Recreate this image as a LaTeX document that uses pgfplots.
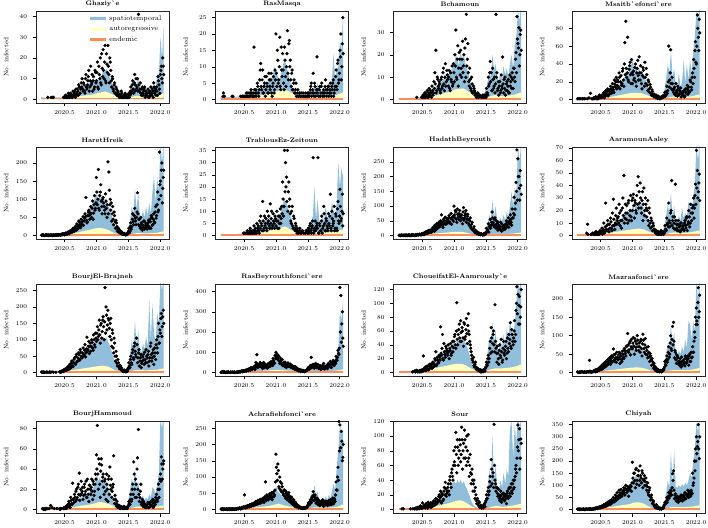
\documentclass[border=0pt]{standalone}
\usepackage{pgfplots}
\pgfplotsset{compat=1.18}
\definecolor{spt}{HTML}{91BFDB}
\definecolor{arc}{HTML}{FFFFBF}
\definecolor{enc}{HTML}{FC8D59}
\newcommand\Spt[1]{\addplot[draw=none,fill=spt,forget plot] table[x expr=2020.13+0.025*\coordindex,y index=0,header=false,row sep=\\]{#1}\closedcycle;}
\newcommand\Arr[1]{\addplot[draw=none,fill=arc,forget plot] table[x expr=2020.13+0.0507*\coordindex,y index=0,header=false,row sep=\\]{#1}\closedcycle;}
\newcommand\Enn[1]{\addplot[draw=none,fill=enc,forget plot] coordinates {(2020.13,#1) (2022.055,#1)}\closedcycle;}
\newcommand\Pts[1]{\addplot[only marks,mark=*,mark size=1.45pt,black,forget plot] table[x expr=2020.13+0.015*\coordindex,y index=0,header=false,row sep=\\]{#1};}
\newcommand\Ptt[1]{\addplot[only marks,mark=*,mark size=1.45pt,black,forget plot] table[x expr=2020.1375+0.015*\coordindex,y index=0,header=false,row sep=\\]{#1};}
\pgfplotsset{
  panel/.style={
    scale only axis, width=133pt, height=92pt, anchor=south west,
    xmin=2020.05, xmax=2022.14,
    xtick={2020.5,2021,2021.5,2022},
    xticklabels={2020.5,2021.0,2021.5,2022.0},
    tick align=outside, tick pos=left,
    major tick length=3.5pt,
    every tick/.style={black, line width=0.45pt},
    axis line style={black!85, line width=0.55pt},
    tick label style={font=\fontsize{6}{7}\selectfont},
    yticklabel style={xshift=-2pt},
    xticklabel style={yshift=-0.5pt},
    ylabel={No.\ infected},
    every axis y label/.style={at={(axis description cs:-0.225,0.5)}, rotate=90, anchor=center, font=\fontsize{6.5}{7}\selectfont},
    every axis title/.style={at={(0.5,1)}, anchor=south, yshift=1pt, font=\bfseries\fontsize{6.5}{7.5}\selectfont},
    axis on top,
    scaled y ticks=false,
  },
}
\begin{document}
\begin{tikzpicture}
\useasboundingbox (0pt,0pt) rectangle (708pt,527pt);
% ---------- 1 Ghaziye
\begin{axis}[panel, at={(36pt,424pt)}, title={Ghaziy\textasciigrave e}, ymin=-1.7, ymax=42.6, ytick={0,10,20,30,40},
  legend style={draw=none, fill=none, at={(0.96,0.975)}, anchor=north east, font=\fontsize{7}{8}\selectfont, row sep=0.3pt, inner sep=0pt},
  legend cell align=left,
  legend image code/.code={\draw[#1, line width=2.6pt] (0pt,0pt) -- (16pt,0pt);}]
\addlegendimage{spt}\addlegendentry{spatiotemporal}
\addlegendimage{arc}\addlegendentry{autoregressive}
\addlegendimage{enc}\addlegendentry{endemic}
\Spt{1.0\\1.0\\0.9\\0.9\\0.9\\0.9\\0.9\\0.9\\0.9\\0.9\\1.0\\1.0\\1.0\\1.0\\1.2\\1.3\\1.5\\1.8\\2.0\\2.3\\2.6\\3.0\\3.4\\3.8\\4.5\\5\\5.5\\6.5\\7\\7.5\\8\\7\\8.5\\9\\8\\10\\9\\12\\11\\14\\13\\15\\12\\11\\9\\7\\6\\4.5\\3.5\\3\\2.5\\2\\2\\1.8\\2\\3\\4\\6\\5\\9\\6\\11\\5\\4\\5\\3.5\\4\\3\\4.5\\5\\4\\7\\6\\12\\10\\30\\20\\35\\}
\Arr{0.8\\0.8\\0.8\\0.8\\0.8\\0.8\\0.8\\0.9\\1.0\\1.1\\1.2\\1.4\\1.6\\1.8\\2.0\\2.2\\2.4\\2.8\\3.2\\3.5\\3.8\\3.2\\2.5\\1.8\\1.3\\1.1\\1.0\\1.0\\1.2\\1.6\\1.8\\1.5\\1.3\\1.3\\1.4\\1.5\\1.8\\2.5\\3.0\\}
\Enn{0.7}
\Pts{nan\\nan\\nan\\nan\\nan\\nan\\nan\\1\\nan\\nan\\nan\\nan\\1\\1\\nan\\nan\\nan\\nan\\nan\\nan\\nan\\nan\\nan\\nan\\1\\1\\2\\1\\1\\2\\1\\3\\2\\1\\2\\4\\1\\3\\5\\2\\6\\3\\8\\10\\4\\7\\3\\12\\5\\9\\14\\6\\16\\8\\4\\11\\6\\13\\9\\18\\5\\12\\20\\7\\15\\24\\10\\26\\8\\17\\26\\12\\20\\14\\6\\10\\4\\8\\3\\5\\2\\3\\1\\2\\4\\1\\2\\1\\3\\1\\2\\1\\3\\2\\6\\4\\9\\3\\12\\7\\5\\10\\41\\4\\8\\2\\6\\3\\5\\1\\4\\2\\5\\1\\3\\6\\2\\4\\8\\3\\5\\6\\2\\9\\5\\12\\16\\8\\16\\}
\Ptt{nan\\nan\\nan\\nan\\nan\\nan\\nan\\nan\\nan\\nan\\1\\nan\\nan\\nan\\nan\\nan\\nan\\nan\\nan\\nan\\nan\\nan\\nan\\1\\nan\\2\\1\\1\\3\\1\\2\\2\\1\\4\\3\\2\\5\\2\\4\\7\\3\\5\\6\\5\\8\\4\\10\\6\\7\\11\\4\\9\\7\\12\\9\\5\\14\\8\\13\\6\\16\\10\\8\\22\\11\\14\\18\\9\\22\\13\\16\\8\\18\\9\\11\\5\\7\\3\\6\\2\\4\\2\\2\\1\\3\\1\\1\\2\\2\\1\\1\\2\\1\\4\\3\\7\\5\\8\\4\\10\\6\\4\\7\\5\\3\\5\\2\\4\\6\\2\\3\\3\\1\\4\\2\\3\\5\\1\\6\\4\\2\\4\\11\\7\\3\\14\\10\\20\\12\\}
\end{axis}
% ---------- 2 RasMasqa
\begin{axis}[panel, at={(215.5pt,424pt)}, title={RasMasqa}, ymin=-1.05, ymax=27, ytick={0,5,10,15,20,25}]
\Spt{0.8\\0.8\\0.8\\0.8\\0.8\\0.8\\0.8\\0.8\\0.8\\0.8\\0.9\\0.9\\1.0\\1.0\\1.0\\1.1\\1.2\\1.4\\1.5\\1.7\\2.0\\2.3\\2.6\\3\\3.2\\3.5\\4\\4.5\\5\\5\\5.5\\6\\6.5\\8\\10\\9\\7\\6\\8\\10\\12\\11\\9\\7\\5\\3.5\\2.5\\2\\1.5\\1.3\\1.2\\1.1\\1.2\\1.3\\1.5\\2\\2.5\\3\\2.5\\4\\3\\5\\3\\2.5\\3\\2.5\\4\\3\\5\\4\\6\\14\\6\\9\\10\\18\\15\\27\\}
\Arr{0.5\\0.5\\0.5\\0.5\\0.5\\0.5\\0.5\\0.6\\0.7\\0.8\\0.9\\1.0\\1.2\\1.4\\1.6\\1.8\\2.0\\2.4\\2.6\\2.8\\3.0\\2.6\\2.0\\1.5\\1.1\\0.9\\0.8\\0.8\\0.9\\1.1\\1.2\\1.1\\1.0\\1.0\\1.1\\1.2\\1.4\\1.8\\2.2\\}
\Enn{0.45}
\Pts{nan\\nan\\nan\\2\\1\\nan\\nan\\nan\\nan\\nan\\nan\\nan\\1\\1\\nan\\nan\\nan\\nan\\nan\\nan\\nan\\1\\nan\\1\\1\\1\\1\\2\\1\\1\\2\\1\\3\\1\\2\\16\\1\\3\\2\\4\\1\\6\\11\\3\\9\\2\\5\\1\\7\\4\\2\\6\\3\\8\\1\\5\\2\\9\\20\\4\\12\\6\\19\\3\\9\\14\\5\\16\\7\\10\\21\\6\\18\\12\\4\\9\\3\\6\\2\\5\\1\\3\\1\\2\\1\\2\\nan\\1\\1\\2\\1\\1\\2\\1\\3\\5\\2\\8\\1\\4\\2\\13\\3\\1\\4\\2\\5\\1\\3\\2\\6\\1\\3\\4\\2\\5\\1\\3\\6\\2\\4\\9\\3\\12\\6\\15\\20\\10\\25\\}
\Ptt{nan\\nan\\1\\nan\\nan\\nan\\nan\\nan\\nan\\nan\\nan\\nan\\nan\\nan\\nan\\nan\\nan\\nan\\nan\\nan\\nan\\nan\\1\\nan\\nan\\nan\\1\\1\\2\\1\\1\\2\\2\\1\\1\\3\\2\\1\\5\\2\\3\\9\\4\\6\\2\\4\\7\\3\\5\\2\\8\\4\\6\\2\\4\\7\\3\\6\\8\\15\\5\\10\\4\\16\\7\\9\\3\\12\\4\\14\\8\\17\\10\\6\\8\\3\\5\\2\\3\\1\\2\\1\\2\\1\\nan\\1\\2\\nan\\1\\1\\1\\2\\1\\2\\4\\1\\3\\2\\5\\1\\3\\2\\1\\3\\1\\4\\2\\2\\1\\4\\3\\2\\4\\1\\3\\2\\4\\5\\1\\3\\7\\4\\11\\5\\8\\13\\6\\17\\14\\}
\end{axis}
% ---------- 3 Bchamoun
\begin{axis}[panel, at={(393.5pt,424pt)}, title={Bchamoun}, ymin=-1.5, ymax=39.5, ytick={0,10,20,30}]
\Spt{0.6\\0.6\\0.6\\0.6\\0.6\\0.6\\0.6\\0.6\\0.6\\0.6\\0.7\\0.8\\0.9\\1.0\\1.2\\1.5\\2\\2.5\\3\\3.5\\4\\4.5\\5\\5.5\\6\\7\\7.5\\8\\9\\9.5\\10\\11\\12\\13\\14\\16\\20\\18\\15\\22\\17\\20\\16\\14\\11\\8\\6\\4\\3\\2.5\\2\\2\\2\\2.5\\3\\5\\8\\12\\10\\20\\13\\16\\10\\8\\12\\9\\15\\11\\14\\10\\16\\20\\14\\24\\28\\40\\35\\42\\}
\Arr{0.5\\0.5\\0.5\\0.5\\0.5\\0.5\\0.5\\0.6\\0.8\\1.0\\1.3\\1.6\\2.0\\2.4\\2.8\\3.2\\3.6\\4.2\\4.6\\4.8\\5.0\\4.2\\3.2\\2.2\\1.5\\1.1\\1.0\\1.0\\1.3\\1.8\\2.0\\1.8\\1.6\\1.6\\1.8\\2.0\\2.2\\2.8\\3.2\\}
\Enn{0.65}
\Pts{nan\\nan\\nan\\nan\\nan\\nan\\nan\\nan\\nan\\nan\\nan\\nan\\nan\\nan\\nan\\nan\\nan\\nan\\nan\\1\\nan\\nan\\nan\\nan\\1\\1\\2\\1\\3\\2\\4\\1\\5\\2\\3\\6\\2\\8\\12\\22\\4\\9\\5\\7\\3\\10\\6\\14\\4\\16\\8\\11\\6\\13\\4\\9\\15\\7\\12\\20\\31\\9\\24\\14\\18\\22\\10\\26\\15\\8\\27\\38\\18\\12\\6\\9\\4\\7\\3\\5\\2\\2\\1\\3\\1\\2\\nan\\1\\2\\1\\1\\2\\5\\3\\10\\7\\17\\12\\4\\9\\6\\3\\38\\12\\5\\2\\8\\4\\6\\19\\3\\5\\2\\7\\4\\9\\3\\6\\10\\12\\5\\14\\8\\21\\37\\25\\32\\20\\31\\}
\Ptt{nan\\nan\\nan\\nan\\nan\\nan\\nan\\nan\\nan\\nan\\nan\\nan\\nan\\nan\\nan\\nan\\nan\\nan\\nan\\nan\\nan\\nan\\nan\\nan\\nan\\2\\1\\3\\1\\2\\1\\3\\2\\4\\1\\4\\3\\5\\7\\3\\10\\6\\8\\4\\9\\5\\12\\7\\10\\6\\13\\9\\10\\5\\12\\8\\6\\16\\8\\15\\10\\18\\6\\21\\11\\14\\18\\12\\20\\23\\10\\15\\25\\8\\14\\5\\10\\3\\6\\4\\3\\1\\2\\1\\2\\nan\\1\\1\\nan\\2\\1\\1\\3\\2\\6\\12\\8\\4\\14\\5\\10\\7\\10\\4\\8\\6\\3\\11\\5\\7\\9\\10\\4\\8\\6\\3\\11\\8\\5\\9\\14\\10\\18\\12\\27\\23\\15\\29\\22\\}
\end{axis}
% ---------- 4 Msaitbeh
\begin{axis}[panel, at={(572pt,424pt)}, title={Msaitb\textasciigrave efonci\textasciigrave ere}, ymin=-3.8, ymax=99.5, ytick={0,20,40,60,80}]
\Spt{1.2\\1.2\\1.2\\1.2\\1.2\\1.2\\1.2\\1.2\\1.4\\1.6\\1.8\\2\\2.3\\2.6\\3\\3.5\\4\\5\\6\\7\\8\\9\\10\\11\\12\\14\\16\\18\\20\\22\\26\\30\\28\\35\\38\\45\\32\\38\\30\\36\\28\\32\\26\\22\\17\\12\\9\\6\\4\\3\\2.5\\2.5\\3\\4\\6\\12\\25\\40\\30\\55\\25\\35\\18\\15\\30\\14\\20\\45\\18\\40\\22\\45\\30\\55\\70\\100\\90\\110\\}
\Arr{1\\1\\1\\1\\1\\1.1\\1.2\\1.4\\1.8\\2.2\\2.8\\3.4\\4.0\\4.8\\5.5\\6.2\\7.0\\7.5\\7.8\\7.5\\7.0\\6.0\\4.5\\3.2\\2.2\\1.6\\1.4\\1.4\\2.0\\3.0\\3.5\\3.2\\3.0\\3.0\\3.2\\3.5\\4.0\\5.0\\6.0\\}
\Enn{1.6}
\Pts{nan\\1\\nan\\1\\1\\nan\\1\\nan\\1\\nan\\nan\\nan\\nan\\nan\\7\\nan\\1\\1\\2\\nan\\1\\3\\1\\2\\4\\2\\5\\3\\8\\4\\10\\6\\12\\5\\9\\15\\7\\18\\11\\22\\14\\25\\16\\20\\30\\12\\27\\18\\35\\15\\64\\88\\25\\70\\20\\38\\28\\45\\18\\32\\24\\40\\15\\35\\27\\48\\22\\30\\12\\36\\25\\42\\18\\28\\10\\20\\8\\14\\5\\9\\4\\6\\3\\5\\2\\4\\2\\1\\3\\2\\4\\3\\8\\5\\15\\10\\60\\22\\56\\12\\18\\8\\14\\5\\10\\4\\12\\6\\9\\3\\7\\5\\10\\4\\8\\12\\6\\14\\9\\20\\11\\30\\45\\25\\65\\40\\95\\70\\90\\}
\Ptt{1\\nan\\1\\nan\\nan\\1\\nan\\1\\nan\\nan\\1\\nan\\2\\nan\\nan\\1\\nan\\2\\1\\3\\2\\1\\2\\5\\3\\4\\3\\6\\2\\7\\5\\9\\4\\11\\7\\12\\10\\14\\8\\17\\20\\12\\22\\14\\25\\20\\16\\32\\22\\40\\28\\35\\30\\22\\34\\42\\18\\30\\28\\22\\36\\20\\30\\44\\22\\30\\38\\18\\27\\33\\15\\25\\35\\16\\22\\12\\17\\7\\11\\6\\3\\4\\2\\3\\1\\3\\1\\2\\2\\4\\3\\5\\4\\9\\7\\20\\14\\30\\18\\25\\10\\12\\6\\18\\8\\15\\5\\10\\13\\6\\9\\8\\3\\12\\7\\16\\10\\8\\22\\14\\25\\18\\35\\55\\42\\60\\80\\55\\75\\}
\end{axis}
% ---------- 5 HaretHreik
\begin{axis}[panel, at={(36pt,288pt)}, title={HaretHreik}, ymin=-9.4, ymax=244, ytick={0,50,100,150,200}]
\Spt{2\\2\\2\\2\\2\\2\\2\\2\\2.2\\2.5\\3\\3.5\\4\\5\\6\\7\\9\\11\\13\\16\\19\\22\\26\\30\\34\\38\\44\\50\\56\\62\\70\\78\\86\\95\\105\\115\\100\\110\\95\\105\\90\\100\\85\\75\\60\\45\\30\\18\\10\\6\\5\\4\\4\\5\\8\\20\\45\\80\\60\\130\\70\\120\\60\\45\\70\\50\\80\\55\\90\\60\\120\\165\\90\\160\\120\\250\\200\\260\\}
\Arr{2\\2\\2\\2\\2\\2.2\\2.5\\3\\4\\5\\6.5\\8\\10\\12\\14\\16\\18\\20\\21\\20\\18\\15\\10\\6\\4\\3\\3\\3\\4\\6\\7\\6.5\\6\\6\\6.5\\7\\8\\10\\12\\}
\Enn{4}
\Pts{nan\\1\\2\\1\\0\\1\\2\\1\\0\\1\\2\\1\\0\\1\\1\\2\\1\\2\\1\\3\\2\\4\\2\\3\\5\\4\\7\\3\\9\\6\\12\\8\\15\\10\\18\\12\\25\\15\\30\\20\\38\\24\\45\\30\\52\\40\\60\\105\\35\\55\\70\\45\\80\\50\\95\\62\\110\\75\\160\\85\\182\\70\\120\\95\\60\\105\\80\\60\\95\\50\\203\\175\\85\\70\\40\\80\\30\\55\\20\\35\\12\\20\\8\\12\\5\\8\\3\\6\\4\\2\\5\\8\\20\\12\\35\\25\\60\\30\\75\\40\\50\\118\\30\\45\\20\\35\\15\\28\\40\\22\\30\\18\\35\\25\\45\\20\\50\\30\\60\\35\\80\\55\\120\\70\\230\\150\\180\\90\\160\\}
\Ptt{1\\2\\1\\0\\2\\1\\1\\2\\1\\1\\0\\2\\1\\2\\0\\1\\3\\1\\3\\2\\1\\3\\5\\4\\2\\6\\5\\8\\10\\5\\9\\14\\11\\20\\14\\22\\18\\32\\26\\40\\30\\22\\35\\40\\28\\48\\52\\42\\38\\65\\55\\62\\60\\75\\45\\85\\70\\90\\120\\100\\75\\110\\140\\80\\100\\90\\70\\115\\75\\85\\60\\125\\100\\90\\60\\45\\65\\38\\42\\25\\18\\12\\15\\6\\10\\4\\3\\5\\2\\4\\3\\12\\8\\25\\18\\45\\38\\55\\48\\30\\65\\60\\45\\25\\50\\30\\22\\40\\18\\35\\25\\28\\42\\20\\38\\55\\28\\45\\38\\65\\48\\85\\65\\100\\140\\110\\200\\130\\180\\}
\end{axis}
% ---------- 6 TrablousEz-Zeitoun
\begin{axis}[panel, at={(215.5pt,288pt)}, title={TrablousEz-Zeitoun}, ymin=-1.4, ymax=36.4, ytick={0,5,10,15,20,25,30,35}]
\Spt{0.5\\0.5\\0.5\\0.5\\0.5\\0.5\\0.5\\0.5\\0.5\\0.5\\0.6\\0.7\\0.8\\0.9\\1.0\\1.2\\1.4\\1.6\\1.9\\2.2\\2.5\\2.8\\3.2\\3.6\\4\\4.5\\5\\5.5\\6\\6.5\\7\\6.5\\7\\6.5\\7\\7\\7.5\\8\\10\\13\\15\\14\\12\\10\\8\\6\\4\\3\\2\\1.5\\1.2\\1\\1\\1.2\\1.5\\2.5\\4\\6\\8\\20\\7\\15\\6\\5\\8\\6\\12\\7\\10\\8\\14\\10\\8\\14\\30\\20\\28\\24\\}
\Arr{0.4\\0.4\\0.4\\0.4\\0.4\\0.4\\0.4\\0.5\\0.6\\0.8\\1.0\\1.2\\1.4\\1.6\\1.8\\2.0\\2.2\\2.5\\2.8\\3.4\\3.8\\3.0\\2.2\\1.5\\1.0\\0.7\\0.6\\0.6\\0.8\\1.2\\1.5\\1.4\\1.3\\1.3\\1.4\\1.5\\1.8\\2.2\\2.6\\}
\Enn{0.6}
\Pts{nan\\nan\\nan\\nan\\nan\\nan\\nan\\nan\\nan\\nan\\nan\\nan\\nan\\nan\\nan\\nan\\nan\\nan\\nan\\nan\\nan\\nan\\nan\\nan\\1\\1\\nan\\1\\2\\1\\1\\3\\1\\2\\1\\4\\2\\1\\5\\3\\2\\6\\8\\4\\14\\2\\8\\5\\3\\10\\6\\4\\13\\7\\3\\9\\5\\8\\4\\10\\6\\3\\8\\5\\12\\22\\8\\35\\30\\24\\35\\18\\12\\9\\5\\12\\3\\7\\2\\4\\1\\2\\1\\3\\1\\nan\\2\\1\\nan\\1\\2\\1\\3\\2\\5\\1\\4\\32\\2\\6\\3\\5\\32\\1\\4\\2\\8\\3\\12\\5\\2\\6\\3\\9\\4\\17\\2\\7\\5\\12\\3\\8\\2\\14\\5\\19\\6\\10\\4\\}
\Ptt{nan\\nan\\nan\\nan\\nan\\nan\\nan\\nan\\nan\\nan\\nan\\nan\\nan\\nan\\nan\\nan\\nan\\nan\\nan\\nan\\nan\\nan\\nan\\nan\\nan\\nan\\1\\nan\\1\\nan\\2\\1\\nan\\1\\2\\1\\3\\1\\2\\4\\1\\3\\5\\2\\6\\3\\4\\7\\2\\5\\8\\3\\5\\10\\4\\6\\3\\7\\6\\3\\8\\5\\11\\7\\9\\15\\12\\18\\20\\14\\10\\22\\15\\6\\10\\4\\8\\3\\5\\2\\3\\1\\2\\nan\\1\\2\\nan\\nan\\1\\2\\nan\\2\\1\\4\\2\\3\\6\\1\\3\\2\\4\\3\\1\\5\\2\\6\\1\\4\\9\\2\\7\\4\\2\\5\\8\\3\\10\\4\\6\\2\\9\\3\\11\\6\\8\\12\\7\\17\\9\\}
\end{axis}
% ---------- 7 HadathBeyrouth
\begin{axis}[panel, at={(393.5pt,288pt)}, title={HadathBeyrouth}, ymin=-11.5, ymax=300, ytick={0,50,100,150,200,250}]
\Spt{2\\2\\2\\2\\2\\2\\2\\2\\2.3\\2.6\\3\\3.5\\4\\5\\6\\7\\9\\11\\13\\15\\18\\21\\24\\27\\30\\34\\38\\42\\46\\50\\54\\58\\60\\64\\68\\72\\65\\70\\62\\68\\60\\64\\58\\52\\44\\35\\24\\15\\9\\6\\5\\4\\4\\5\\8\\18\\40\\70\\55\\120\\60\\100\\50\\45\\60\\48\\70\\52\\80\\60\\100\\150\\100\\160\\130\\300\\250\\310\\}
\Arr{2\\2\\2\\2\\2\\2.2\\2.5\\3\\3.8\\4.6\\5.5\\6.5\\7.5\\8.5\\9.5\\10.5\\11.5\\12.5\\13\\12.5\\12\\10\\7\\5\\3.5\\3\\3\\3\\4\\5.5\\6\\6\\5.5\\5.5\\6\\6.5\\7.5\\9\\11\\}
\Enn{5}
\Pts{nan\\1\\0\\2\\1\\0\\1\\2\\1\\0\\1\\3\\1\\0\\2\\1\\2\\1\\3\\2\\4\\2\\5\\3\\6\\4\\8\\5\\12\\7\\15\\10\\18\\12\\20\\14\\28\\18\\35\\22\\40\\25\\45\\30\\50\\70\\35\\55\\40\\62\\45\\58\\50\\68\\42\\75\\55\\65\\100\\60\\80\\45\\72\\55\\85\\50\\70\\40\\95\\60\\75\\45\\65\\55\\35\\60\\25\\45\\18\\30\\10\\15\\6\\10\\4\\8\\3\\5\\2\\6\\4\\10\\25\\15\\40\\30\\55\\35\\80\\45\\30\\60\\25\\40\\18\\35\\22\\45\\15\\30\\20\\35\\25\\50\\30\\60\\40\\70\\45\\90\\60\\130\\90\\180\\290\\260\\200\\120\\170\\}
\Ptt{1\\0\\2\\1\\0\\2\\1\\0\\2\\1\\2\\0\\1\\2\\3\\1\\0\\2\\1\\3\\2\\4\\3\\2\\5\\7\\3\\9\\6\\10\\8\\14\\11\\16\\12\\18\\24\\15\\28\\20\\32\\38\\30\\40\\36\\45\\28\\50\\60\\38\\52\\42\\60\\45\\58\\38\\62\\48\\70\\85\\55\\90\\62\\75\\68\\62\\58\\80\\52\\68\\85\\55\\72\\40\\50\\30\\38\\20\\25\\14\\18\\8\\12\\5\\7\\3\\6\\4\\3\\2\\5\\6\\15\\20\\12\\35\\25\\45\\60\\38\\55\\35\\50\\28\\45\\25\\30\\18\\38\\25\\28\\22\\40\\35\\45\\28\\50\\55\\35\\60\\75\\70\\110\\150\\120\\200\\160\\220\\140\\}
\end{axis}
% ---------- 8 AaramounAaley
\begin{axis}[panel, at={(572pt,288pt)}, title={AaramounAaley}, ymin=-2.7, ymax=70.7, ytick={0,10,20,30,40,50,60,70}]
\Spt{1\\1\\1\\1\\1\\1\\1\\1\\1.1\\1.2\\1.4\\1.6\\1.8\\2.0\\2.4\\2.8\\3.3\\3.8\\4.5\\5.2\\6\\7\\8\\9\\10\\11\\12\\13\\14\\15\\16\\17\\18\\19\\20\\24\\20\\26\\22\\28\\24\\26\\20\\17\\14\\11\\8\\5\\3.5\\2.5\\2\\2\\2\\2.5\\3.5\\8\\16\\25\\18\\34\\15\\24\\12\\10\\16\\12\\22\\14\\18\\15\\27\\25\\18\\30\\40\\72\\60\\75\\}
\Arr{0.8\\0.8\\0.8\\0.8\\0.8\\0.9\\1.0\\1.2\\1.5\\1.8\\2.2\\2.6\\3.0\\3.4\\3.8\\4.2\\4.6\\5.0\\5.4\\5.6\\5.4\\4.6\\3.4\\2.4\\1.6\\1.2\\1.1\\1.1\\1.5\\2.2\\2.6\\2.4\\2.2\\2.2\\2.4\\2.6\\3.0\\3.6\\4.2\\}
\Enn{1.2}
\Pts{nan\\nan\\nan\\nan\\nan\\nan\\nan\\nan\\nan\\nan\\2\\9\\nan\\nan\\nan\\1\\nan\\1\\2\\1\\3\\1\\2\\1\\4\\2\\6\\4\\10\\3\\26\\8\\12\\5\\9\\14\\6\\18\\29\\8\\10\\22\\12\\15\\25\\8\\20\\12\\30\\48\\14\\18\\24\\10\\28\\16\\32\\12\\20\\33\\14\\26\\18\\40\\47\\35\\42\\22\\28\\12\\38\\20\\25\\15\\28\\8\\18\\6\\12\\4\\8\\5\\2\\4\\1\\3\\2\\1\\4\\2\\3\\3\\8\\5\\14\\10\\26\\7\\18\\44\\12\\6\\15\\41\\9\\4\\12\\7\\3\\10\\5\\8\\4\\12\\6\\15\\9\\20\\7\\25\\12\\18\\30\\22\\41\\68\\52\\35\\49\\}
\Ptt{nan\\nan\\nan\\nan\\nan\\nan\\nan\\nan\\nan\\nan\\nan\\1\\nan\\nan\\1\\nan\\2\\nan\\1\\3\\1\\2\\1\\3\\2\\3\\1\\5\\2\\7\\5\\4\\9\\3\\6\\11\\4\\8\\13\\5\\16\\9\\14\\10\\18\\12\\6\\22\\16\\10\\25\\13\\18\\26\\12\\20\\15\\28\\30\\24\\28\\20\\32\\25\\22\\26\\30\\18\\35\\25\\16\\30\\22\\20\\12\\22\\10\\14\\7\\10\\5\\3\\4\\2\\3\\1\\2\\3\\1\\2\\1\\2\\5\\4\\9\\7\\12\\10\\20\\8\\15\\10\\5\\12\\6\\9\\4\\8\\10\\5\\7\\5\\10\\8\\14\\4\\11\\15\\10\\18\\22\\24\\14\\32\\25\\38\\30\\42\\28\\}
\end{axis}
% ---------- 9 BourjEl-Brajneh
\begin{axis}[panel, at={(36pt,151pt)}, title={BourjEl-Brajneh}, ymin=-10.4, ymax=270, ytick={0,50,100,150,200,250}]
\Spt{3\\3\\3\\3\\3\\3\\3\\3\\3.5\\4\\5\\6\\7\\8\\10\\12\\15\\18\\22\\26\\30\\34\\38\\42\\46\\50\\55\\60\\65\\70\\75\\80\\85\\90\\95\\100\\92\\105\\98\\110\\100\\108\\95\\85\\70\\55\\38\\22\\12\\8\\6\\5\\5\\6\\10\\25\\55\\100\\70\\160\\80\\130\\70\\60\\90\\70\\110\\80\\220\\100\\210\\120\\90\\180\\150\\280\\250\\290\\}
\Arr{3\\3\\3\\3\\3\\3.2\\3.5\\4\\5\\6.5\\8\\9.5\\11\\12.5\\14\\15.5\\17\\18.5\\20\\21\\20\\17\\12\\7\\5\\4\\4\\4\\5\\7\\8\\7.5\\7\\7\\7.5\\8\\9\\11\\13\\}
\Enn{4.5}
\Pts{nan\\1\\2\\0\\1\\nan\\2\\1\\nan\\2\\1\\nan\\nan\\1\\nan\\nan\\nan\\nan\\nan\\nan\\3\\2\\5\\4\\8\\6\\12\\8\\18\\10\\25\\15\\35\\20\\30\\45\\25\\55\\35\\60\\40\\70\\50\\45\\75\\55\\85\\60\\108\\70\\95\\80\\65\\100\\75\\115\\85\\120\\95\\140\\110\\160\\90\\150\\125\\170\\100\\259\\200\\130\\190\\160\\110\\165\\80\\120\\60\\90\\35\\50\\20\\30\\12\\20\\8\\5\\3\\8\\4\\2\\6\\10\\30\\15\\50\\25\\70\\40\\90\\55\\105\\30\\60\\20\\45\\15\\35\\55\\25\\40\\70\\30\\55\\20\\45\\90\\35\\60\\25\\75\\40\\100\\60\\150\\90\\120\\180\\140\\190\\}
\Ptt{2\\nan\\1\\1\\nan\\1\\nan\\nan\\1\\nan\\nan\\2\\nan\\nan\\nan\\1\\nan\\nan\\nan\\2\\1\\4\\6\\3\\10\\9\\7\\14\\11\\20\\13\\28\\22\\18\\40\\28\\48\\32\\45\\55\\38\\62\\45\\60\\52\\68\\48\\72\\65\\80\\58\\90\\80\\92\\68\\100\\78\\105\\120\\100\\130\\115\\145\\105\\160\\140\\155\\120\\175\\145\\165\\135\\150\\100\\130\\75\\105\\50\\65\\28\\40\\18\\22\\10\\14\\6\\4\\5\\3\\8\\4\\15\\20\\40\\30\\60\\45\\80\\65\\48\\85\\45\\70\\35\\55\\28\\48\\38\\62\\30\\50\\45\\65\\35\\80\\55\\45\\70\\50\\60\\85\\75\\110\\90\\130\\165\\110\\170\\150\\}
\end{axis}
% ---------- 10 RasBeyrouth
\begin{axis}[panel, at={(215.5pt,151pt)}, title={RasBeyrouthfonci\textasciigrave ere}, ymin=-16.8, ymax=437, ytick={0,100,200,300,400}]
\Spt{3\\3\\3\\3\\3\\3\\3\\3\\3.5\\4\\4.5\\5\\6\\7\\8\\9\\10\\12\\14\\16\\18\\20\\22\\25\\28\\30\\33\\35\\38\\40\\42\\45\\50\\55\\60\\75\\65\\55\\48\\42\\38\\35\\33\\30\\28\\25\\20\\15\\12\\10\\9\\8\\8\\9\\12\\18\\28\\40\\35\\50\\38\\45\\32\\30\\38\\32\\40\\35\\45\\40\\55\\60\\55\\80\\120\\300\\260\\360\\}
\Arr{3\\3\\3\\3\\3\\3.2\\3.5\\4\\4.5\\5\\6\\7\\8\\9\\10\\11\\12\\13\\13\\12\\11\\10\\9\\7\\6\\5\\5\\5\\6\\7\\7\\7\\7\\7\\8\\9\\10\\13\\16\\}
\Enn{7}
\Pts{nan\\2\\5\\1\\3\\0\\2\\1\\4\\nan\\2\\1\\3\\nan\\1\\2\\nan\\1\\3\\2\\5\\3\\8\\4\\10\\6\\12\\8\\15\\10\\20\\12\\25\\15\\20\\30\\15\\50\\88\\25\\40\\30\\45\\35\\20\\50\\25\\40\\30\\22\\45\\35\\30\\55\\40\\70\\50\\85\\100\\90\\65\\80\\45\\60\\40\\35\\50\\30\\45\\25\\40\\35\\30\\42\\25\\35\\20\\30\\15\\25\\12\\18\\8\\15\\5\\12\\6\\10\\4\\8\\10\\15\\25\\18\\35\\75\\28\\40\\22\\35\\30\\25\\40\\20\\35\\15\\30\\22\\45\\18\\28\\35\\20\\45\\30\\55\\25\\40\\60\\35\\50\\80\\60\\110\\90\\420\\380\\240\\170\\}
\Ptt{1\\3\\2\\4\\1\\2\\1\\3\\2\\1\\3\\nan\\2\\1\\3\\1\\2\\2\\4\\3\\6\\5\\7\\9\\6\\10\\8\\13\\11\\16\\14\\18\\20\\22\\25\\18\\35\\28\\42\\35\\30\\50\\28\\45\\32\\38\\42\\28\\35\\40\\30\\48\\40\\48\\35\\60\\45\\70\\80\\70\\85\\55\\72\\50\\65\\45\\38\\52\\40\\35\\48\\30\\38\\30\\35\\28\\25\\22\\28\\18\\20\\14\\12\\10\\9\\8\\7\\6\\8\\10\\12\\20\\18\\28\\22\\30\\40\\25\\32\\45\\25\\30\\35\\28\\22\\25\\35\\28\\20\\30\\25\\28\\40\\32\\38\\28\\45\\50\\42\\55\\45\\65\\75\\95\\120\\200\\150\\300\\130\\}
\end{axis}
% ---------- 11 Choueifat
\begin{axis}[panel, at={(393.5pt,151pt)}, title={ChoueifatEl-Aamrously\textasciigrave e}, ymin=-5, ymax=128, ytick={0,20,40,60,80,100,120}]
\Spt{1.5\\1.5\\1.5\\1.5\\1.5\\1.5\\1.5\\1.5\\1.8\\2\\2.5\\3\\3.5\\4\\5\\6\\7\\8\\9\\10\\12\\14\\16\\18\\20\\22\\24\\26\\28\\30\\32\\34\\36\\38\\40\\45\\42\\48\\44\\50\\46\\48\\42\\38\\30\\22\\14\\8\\5\\3.5\\3\\2.5\\2.5\\3\\5\\12\\30\\50\\40\\73\\45\\60\\35\\30\\45\\35\\55\\40\\65\\50\\75\\60\\55\\70\\100\\130\\120\\135\\}
\Arr{1.5\\1.5\\1.5\\1.5\\1.5\\1.7\\2\\2.5\\3\\4\\5\\6\\7\\8\\9\\10\\11\\12\\12.5\\12.5\\12\\10\\7\\4.5\\3\\2.5\\2.5\\2.5\\3.5\\5\\6\\6\\6\\6.5\\7\\7.5\\8.5\\10\\12\\}
\Enn{2.2}
\Pts{nan\\nan\\nan\\nan\\nan\\nan\\nan\\nan\\nan\\nan\\nan\\nan\\nan\\nan\\nan\\1\\nan\\2\\1\\3\\1\\2\\1\\3\\2\\3\\24\\4\\8\\3\\6\\10\\5\\8\\12\\6\\15\\9\\20\\30\\11\\18\\14\\22\\66\\25\\55\\18\\30\\22\\35\\28\\40\\20\\32\\25\\38\\30\\45\\55\\35\\101\\40\\62\\50\\75\\45\\60\\38\\70\\52\\78\\42\\85\\55\\40\\30\\20\\15\\10\\12\\8\\4\\6\\3\\2\\4\\1\\3\\2\\5\\6\\15\\10\\25\\20\\45\\65\\30\\55\\40\\98\\35\\15\\28\\12\\40\\22\\30\\18\\45\\25\\38\\20\\50\\30\\42\\72\\35\\55\\40\\60\\45\\90\\124\\113\\97\\70\\95\\}
\Ptt{nan\\nan\\nan\\nan\\nan\\nan\\nan\\nan\\nan\\nan\\nan\\nan\\nan\\nan\\1\\nan\\2\\1\\3\\2\\1\\2\\3\\1\\4\\2\\5\\7\\3\\9\\5\\4\\12\\7\\9\\14\\8\\12\\18\\10\\22\\15\\25\\18\\28\\35\\20\\42\\26\\38\\32\\25\\30\\35\\42\\28\\45\\36\\52\\40\\60\\48\\55\\70\\45\\58\\65\\50\\72\\48\\62\\56\\68\\60\\45\\35\\25\\18\\22\\8\\15\\5\\6\\3\\4\\1\\2\\3\\1\\4\\2\\8\\12\\20\\15\\35\\28\\50\\42\\60\\30\\45\\28\\38\\20\\32\\25\\48\\15\\35\\28\\32\\45\\28\\35\\55\\48\\38\\62\\45\\50\\75\\55\\100\\85\\70\\110\\80\\120\\}
\end{axis}
% ---------- 12 Mazraa
\begin{axis}[panel, at={(572pt,151pt)}, title={Mazraafonci\textasciigrave ere}, ymin=-9.2, ymax=240, ytick={0,50,100,150,200}]
\Spt{2\\2\\2\\2\\2\\2\\2\\2\\2.5\\3\\4\\5\\6\\7\\9\\11\\13\\15\\18\\21\\24\\27\\30\\33\\36\\40\\43\\46\\50\\52\\55\\58\\60\\62\\65\\70\\62\\68\\60\\66\\58\\62\\55\\50\\42\\32\\22\\13\\8\\5\\4\\4\\4\\5\\8\\20\\50\\80\\60\\130\\70\\110\\55\\45\\60\\50\\70\\55\\90\\65\\140\\130\\90\\140\\110\\250\\200\\260\\}
\Arr{2\\2\\2\\2\\2.2\\2.5\\3\\3.5\\4.5\\5.5\\6.5\\7.5\\8.5\\9.5\\10.5\\11.5\\12.5\\13.5\\14\\14\\13\\11\\8\\5\\3.5\\3\\3\\3\\4\\6\\7\\7\\6.5\\6.5\\7\\7.5\\8.5\\10.5\\13\\}
\Enn{4}
\Pts{nan\\1\\0\\2\\1\\3\\nan\\1\\2\\nan\\1\\3\\nan\\33\\2\\1\\nan\\3\\6\\2\\8\\4\\10\\6\\15\\8\\20\\12\\25\\15\\30\\20\\35\\25\\40\\22\\45\\30\\64\\35\\50\\28\\42\\35\\55\\25\\45\\30\\50\\38\\60\\45\\70\\106\\55\\80\\48\\90\\65\\95\\50\\85\\60\\100\\70\\80\\55\\90\\45\\104\\65\\75\\50\\60\\40\\55\\30\\45\\20\\30\\12\\18\\6\\10\\3\\8\\2\\5\\4\\3\\8\\10\\30\\20\\45\\35\\70\\50\\100\\60\\125\\136\\40\\55\\25\\45\\30\\20\\38\\15\\30\\22\\35\\18\\40\\28\\45\\20\\50\\30\\40\\70\\55\\110\\150\\175\\130\\230\\165\\}
\Ptt{2\\nan\\1\\1\\nan\\2\\1\\nan\\1\\2\\nan\\2\\1\\4\\nan\\3\\2\\5\\4\\7\\3\\9\\6\\12\\9\\14\\10\\18\\15\\22\\18\\28\\22\\30\\32\\38\\28\\42\\48\\30\\40\\55\\36\\48\\40\\52\\35\\58\\42\\65\\52\\72\\58\\75\\62\\85\\70\\65\\80\\72\\92\\68\\78\\88\\60\\70\\85\\65\\78\\88\\55\\92\\68\\48\\70\\42\\52\\35\\38\\22\\25\\12\\14\\5\\8\\4\\3\\6\\2\\5\\6\\15\\22\\35\\28\\55\\42\\80\\65\\90\\75\\85\\60\\35\\48\\40\\22\\30\\25\\42\\20\\30\\28\\45\\25\\35\\38\\45\\30\\55\\42\\55\\85\\95\\130\\140\\190\\150\\210\\}
\end{axis}
% ---------- 13 BourjHammoud
\begin{axis}[panel, at={(36pt,14pt)}, title={BourjHammoud}, ymin=-3.4, ymax=87.4, ytick={0,20,40,60,80}]
\Spt{0.8\\0.8\\0.8\\0.8\\0.8\\0.8\\0.8\\0.8\\1\\1.2\\1.4\\1.6\\1.8\\2\\2.5\\3\\3.5\\4\\5\\6\\7\\8\\9\\10\\11\\12\\13\\14\\15\\16\\17\\18\\20\\22\\25\\35\\28\\32\\25\\30\\26\\28\\22\\18\\14\\10\\6\\4\\3\\2.5\\2\\2\\2\\2.5\\4\\10\\20\\30\\25\\40\\22\\28\\14\\10\\14\\9\\12\\10\\15\\12\\22\\20\\15\\25\\35\\90\\80\\95\\}
\Arr{0.8\\0.8\\0.8\\0.8\\0.8\\0.9\\1\\1.2\\1.6\\2.0\\2.5\\3\\3.5\\4\\4.5\\5\\5.5\\6.5\\7.5\\7\\6.5\\5.5\\4\\2.8\\1.8\\1.2\\1\\1\\1.5\\2.5\\3\\2.8\\2.5\\2.5\\2.6\\2.8\\3\\3.5\\4\\}
\Enn{1.5}
\Pts{nan\\nan\\1\\0\\1\\nan\\nan\\1\\nan\\nan\\4\\nan\\nan\\nan\\1\\nan\\nan\\1\\nan\\nan\\0\\1\\nan\\nan\\2\\1\\3\\2\\5\\8\\4\\12\\6\\26\\10\\15\\8\\20\\12\\25\\36\\14\\28\\18\\10\\22\\15\\28\\12\\20\\8\\24\\15\\30\\10\\25\\18\\35\\54\\83\\20\\45\\12\\50\\28\\35\\15\\30\\10\\25\\8\\33\\42\\20\\12\\22\\53\\6\\10\\3\\5\\2\\4\\1\\3\\2\\1\\3\\2\\1\\2\\3\\8\\5\\15\\10\\25\\47\\20\\30\\12\\51\\79\\8\\18\\5\\10\\3\\6\\2\\4\\3\\7\\2\\5\\8\\4\\10\\3\\6\\12\\15\\8\\25\\20\\35\\52\\30\\45\\}
\Ptt{nan\\1\\nan\\nan\\0\\1\\nan\\nan\\1\\nan\\nan\\2\\nan\\nan\\nan\\nan\\1\\nan\\nan\\1\\nan\\nan\\nan\\1\\nan\\2\\1\\4\\3\\6\\2\\9\\5\\10\\7\\12\\18\\10\\22\\15\\9\\20\\16\\22\\14\\25\\18\\12\\30\\15\\24\\20\\22\\18\\28\\14\\25\\30\\40\\35\\50\\25\\38\\44\\32\\22\\28\\18\\35\\20\\30\\15\\24\\30\\18\\25\\10\\14\\5\\8\\2\\3\\1\\2\\2\\1\\3\\1\\2\\2\\1\\4\\6\\10\\8\\20\\15\\35\\12\\25\\40\\20\\15\\12\\25\\7\\4\\8\\3\\5\\2\\5\\2\\6\\3\\4\\7\\2\\9\\5\\8\\10\\20\\12\\30\\28\\45\\40\\48\\}
\end{axis}
% ---------- 14 Achrafieh
\begin{axis}[panel, at={(215.5pt,14pt)}, title={Achrafiehfonci\textasciigrave ere}, ymin=-10.5, ymax=272, ytick={0,50,100,150,200,250}]
\Spt{3\\3\\3\\3\\3\\3\\3\\3\\3.5\\4\\4.5\\5\\6\\7\\8\\9\\10\\11\\12\\14\\16\\18\\20\\22\\24\\26\\28\\30\\32\\34\\36\\38\\40\\45\\55\\70\\55\\50\\45\\48\\42\\45\\40\\38\\32\\25\\18\\12\\8\\6\\5\\5\\5\\6\\8\\15\\30\\50\\40\\75\\40\\55\\30\\25\\35\\28\\40\\30\\45\\35\\55\\80\\60\\130\\180\\260\\230\\250\\}
\Arr{2.5\\2.5\\2.5\\2.5\\2.5\\2.8\\3\\3.5\\4\\5\\6\\7\\8\\9\\10\\11\\13\\16\\18\\15\\12\\10\\8\\6\\4.5\\4\\4\\4\\5\\6.5\\7\\6.5\\6\\6\\6.5\\7\\8\\12\\16\\}
\Enn{4.5}
\Pts{nan\\1\\3\\0\\2\\1\\2\\0\\1\\3\\1\\2\\0\\2\\1\\3\\2\\2\\4\\3\\5\\2\\6\\4\\8\\45\\5\\10\\7\\12\\8\\15\\10\\18\\12\\20\\14\\25\\16\\28\\18\\30\\20\\22\\32\\25\\35\\85\\28\\38\\30\\42\\35\\45\\30\\50\\40\\60\\170\\110\\140\\70\\100\\60\\80\\55\\45\\60\\35\\50\\30\\45\\25\\40\\20\\30\\15\\25\\10\\18\\8\\12\\5\\8\\4\\6\\3\\5\\4\\6\\8\\10\\20\\15\\30\\22\\40\\55\\28\\45\\20\\35\\15\\28\\12\\22\\18\\30\\10\\20\\15\\25\\12\\20\\18\\30\\15\\28\\22\\35\\25\\85\\60\\130\\270\\260\\190\\210\\160\\}
\Ptt{2\\0\\1\\2\\nan\\1\\3\\1\\2\\0\\2\\1\\3\\1\\0\\2\\1\\3\\2\\5\\4\\3\\7\\5\\6\\8\\10\\6\\12\\9\\14\\11\\16\\13\\18\\15\\22\\18\\24\\20\\28\\25\\32\\28\\35\\22\\40\\30\\45\\35\\38\\48\\40\\52\\38\\55\\45\\85\\130\\90\\120\\65\\85\\55\\70\\50\\60\\40\\55\\45\\38\\52\\35\\30\\38\\25\\30\\18\\22\\12\\14\\8\\10\\6\\5\\4\\6\\3\\7\\5\\6\\14\\18\\25\\20\\35\\30\\45\\38\\32\\28\\25\\30\\20\\18\\25\\15\\22\\18\\26\\20\\18\\22\\28\\15\\25\\22\\35\\18\\30\\45\\60\\100\\90\\180\\190\\240\\150\\200\\}
\end{axis}
% ---------- 15 Sour
\begin{axis}[panel, at={(393.5pt,14pt)}, title={Sour}, ymin=-4.7, ymax=120.5, ytick={0,20,40,60,80,100,120}]
\Spt{0.8\\0.8\\0.8\\0.8\\0.8\\0.8\\0.8\\0.8\\1\\1.2\\1.5\\1.8\\2.2\\2.6\\3\\3.5\\4\\5\\6\\7\\8\\9\\10\\11\\12\\13\\14\\15\\17\\19\\22\\25\\28\\32\\36\\38\\35\\40\\36\\40\\35\\38\\32\\28\\22\\16\\10\\6\\4\\3\\2.5\\2.5\\3\\4\\7\\15\\30\\55\\35\\100\\40\\60\\30\\25\\40\\30\\50\\35\\55\\45\\110\\120\\70\\115\\90\\130\\110\\125\\}
\Arr{0.8\\0.8\\0.8\\0.8\\0.8\\0.9\\1\\1.2\\1.6\\2.2\\3\\4\\5\\6\\7\\8\\9\\10.5\\12\\12.5\\11.5\\9\\6\\3.5\\2\\1.5\\1.3\\1.3\\2.5\\4\\5\\4.5\\4\\4\\4.5\\5\\6\\7\\8\\}
\Enn{2}
\Pts{nan\\nan\\nan\\nan\\nan\\1\\nan\\nan\\nan\\nan\\nan\\nan\\nan\\nan\\nan\\1\\nan\\1\\2\\nan\\1\\3\\2\\5\\2\\9\\3\\6\\2\\8\\4\\10\\5\\7\\3\\9\\5\\12\\6\\15\\8\\10\\18\\12\\25\\9\\20\\14\\30\\37\\18\\25\\35\\20\\45\\30\\55\\40\\80\\60\\105\\50\\85\\70\\95\\65\\112\\55\\90\\108\\70\\60\\80\\102\\45\\75\\35\\55\\25\\40\\15\\20\\8\\12\\5\\3\\6\\2\\4\\3\\8\\10\\20\\15\\30\\25\\45\\68\\35\\50\\116\\40\\25\\30\\18\\20\\12\\25\\10\\15\\22\\12\\20\\8\\25\\15\\30\\18\\35\\22\\40\\30\\45\\60\\70\\115\\95\\55\\96\\}
\Ptt{nan\\nan\\nan\\1\\nan\\nan\\nan\\nan\\nan\\nan\\nan\\nan\\1\\nan\\nan\\nan\\1\\nan\\1\\3\\2\\1\\2\\4\\3\\2\\5\\4\\3\\6\\2\\7\\4\\9\\6\\5\\10\\8\\11\\9\\14\\12\\20\\16\\18\\22\\12\\25\\20\\28\\22\\30\\25\\40\\35\\50\\45\\60\\65\\85\\75\\95\\60\\80\\88\\75\\95\\80\\70\\95\\85\\100\\65\\70\\60\\50\\48\\40\\35\\25\\30\\12\\15\\8\\10\\4\\3\\5\\2\\6\\4\\12\\15\\25\\20\\38\\32\\55\\45\\30\\60\\35\\30\\22\\28\\15\\18\\20\\14\\22\\18\\18\\15\\22\\18\\28\\22\\30\\25\\35\\28\\40\\55\\50\\85\\80\\110\\70\\90\\}
\end{axis}
% ---------- 16 Chiyah
\begin{axis}[panel, at={(572pt,14pt)}, title={Chiyah}, ymin=-14, ymax=365, ytick={0,50,100,150,200,250,300,350}]
\Spt{3\\3\\3\\3\\3\\3\\3\\3\\3.5\\4\\5\\6\\7\\8\\10\\12\\14\\16\\19\\22\\25\\28\\31\\34\\38\\42\\46\\50\\55\\60\\65\\70\\75\\82\\90\\140\\120\\145\\125\\140\\120\\130\\110\\100\\80\\60\\40\\22\\12\\8\\6\\5\\5\\6\\10\\30\\70\\120\\90\\240\\100\\245\\95\\90\\100\\92\\105\\95\\110\\100\\120\\150\\130\\200\\250\\360\\320\\380\\}
\Arr{3\\3\\3\\3\\3\\3.5\\4\\5\\6.5\\8\\10\\12\\14\\16\\18\\20\\22\\26\\30\\30\\28\\22\\14\\8\\5\\4\\4\\4\\6\\10\\12\\11\\10\\10\\11\\12\\13\\15\\18\\}
\Enn{6}
\Pts{nan\\1\\3\\0\\2\\1\\nan\\2\\0\\1\\3\\1\\nan\\2\\4\\1\\3\\2\\5\\3\\8\\4\\10\\6\\12\\8\\15\\10\\20\\12\\25\\15\\30\\20\\35\\22\\40\\28\\50\\32\\60\\38\\70\\45\\80\\50\\83\\55\\65\\90\\60\\100\\70\\95\\55\\85\\100\\75\\195\\110\\150\\90\\170\\120\\140\\100\\180\\130\\160\\90\\120\\100\\130\\80\\110\\60\\90\\40\\60\\25\\35\\15\\8\\20\\5\\10\\3\\6\\2\\5\\8\\15\\30\\25\\50\\40\\70\\55\\80\\60\\148\\160\\45\\65\\35\\55\\30\\50\\40\\60\\35\\55\\40\\70\\45\\60\\80\\50\\75\\55\\70\\150\\110\\200\\250\\300\\260\\350\\210\\}
\Ptt{2\\nan\\1\\2\\nan\\1\\3\\1\\2\\nan\\1\\2\\3\\1\\2\\nan\\2\\4\\3\\6\\5\\7\\8\\9\\7\\12\\10\\16\\14\\18\\22\\20\\25\\28\\25\\32\\30\\38\\42\\45\\48\\55\\52\\58\\62\\68\\60\\72\\78\\70\\85\\80\\85\\78\\92\\80\\95\\110\\130\\150\\120\\165\\105\\140\\160\\120\\140\\110\\150\\125\\140\\115\\100\\95\\70\\80\\55\\50\\40\\30\\20\\12\\18\\10\\6\\8\\4\\5\\3\\7\\6\\20\\25\\35\\30\\55\\48\\65\\75\\90\\120\\80\\60\\50\\45\\40\\48\\38\\55\\45\\50\\60\\50\\45\\62\\55\\65\\70\\60\\80\\65\\100\\130\\160\\200\\230\\280\\250\\300\\}
\end{axis}
\end{tikzpicture}
\end{document}
